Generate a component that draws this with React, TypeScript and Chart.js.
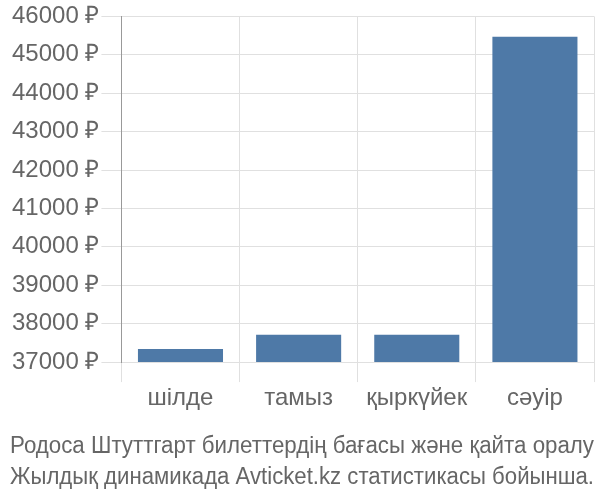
import React, { useEffect, useRef } from "react";
import { Chart, registerables } from "chart.js";

Chart.register(...registerables);

const categories = ["шілде", "тамыз", "қыркүйек", "сәуір"];
const prices = [37340, 37710, 37710, 45470];
const yTicksMin = 37000;
const yTicksMax = 46000;
const titleLines = [
  "Родоса Штуттгарт билеттердің бағасы және қайта оралу",
  "Жылдық динамикада Avticket.kz статистикасы бойынша.",
];

const FONT = "Liberation Sans, Arial, sans-serif";

export default function App() {
  const ref = useRef<HTMLCanvasElement | null>(null);
  useEffect(() => {
    if (!ref.current) return;
    const chart = new Chart(ref.current, {
      type: "bar",
      data: {
        labels: categories,
        datasets: [
          {
            data: prices,
            backgroundColor: "#4e79a7",
            borderWidth: 0,
          },
        ],
      },
      options: {
        animation: false,
        responsive: false,
        maintainAspectRatio: false,
        layout: { padding: { left: 10, right: 6, top: -2, bottom: 3 } },
        plugins: {
          legend: { display: false },
          tooltip: { enabled: false },
          title: {
            display: true,
            position: "bottom",
            text: titleLines,
            color: "#666",
            font: { family: FONT, size: 23, weight: "normal", lineHeight: 1.35 },
            padding: { top: 16, bottom: 4 },
          },
        },
        scales: {
          x: {
            grid: { color: "#e0e0e0", tickLength: 20, offset: true },
            border: { color: "#e0e0e0" },
            ticks: {
              color: "#666",
              font: { family: FONT, size: 24 },
              padding: 2,
            },
          },
          y: {
            min: yTicksMin,
            max: yTicksMax,
            grid: { color: "#e0e0e0", tickLength: 20 },
            border: { color: "#999" },
            ticks: {
              stepSize: 1000,
              color: "#666",
              font: { family: FONT, size: 24 },
              padding: 2,
              callback: (v: any) => `${v} ₽`,
            },
          },
        },
      },
    });
    return () => chart.destroy();
  }, []);
  return (
    <div style={{ position: "fixed", left: 0, top: 0, width: 600, height: 500, background: "#fff" }}>
      <canvas ref={ref} width={600} height={500} />
    </div>
  );
}
